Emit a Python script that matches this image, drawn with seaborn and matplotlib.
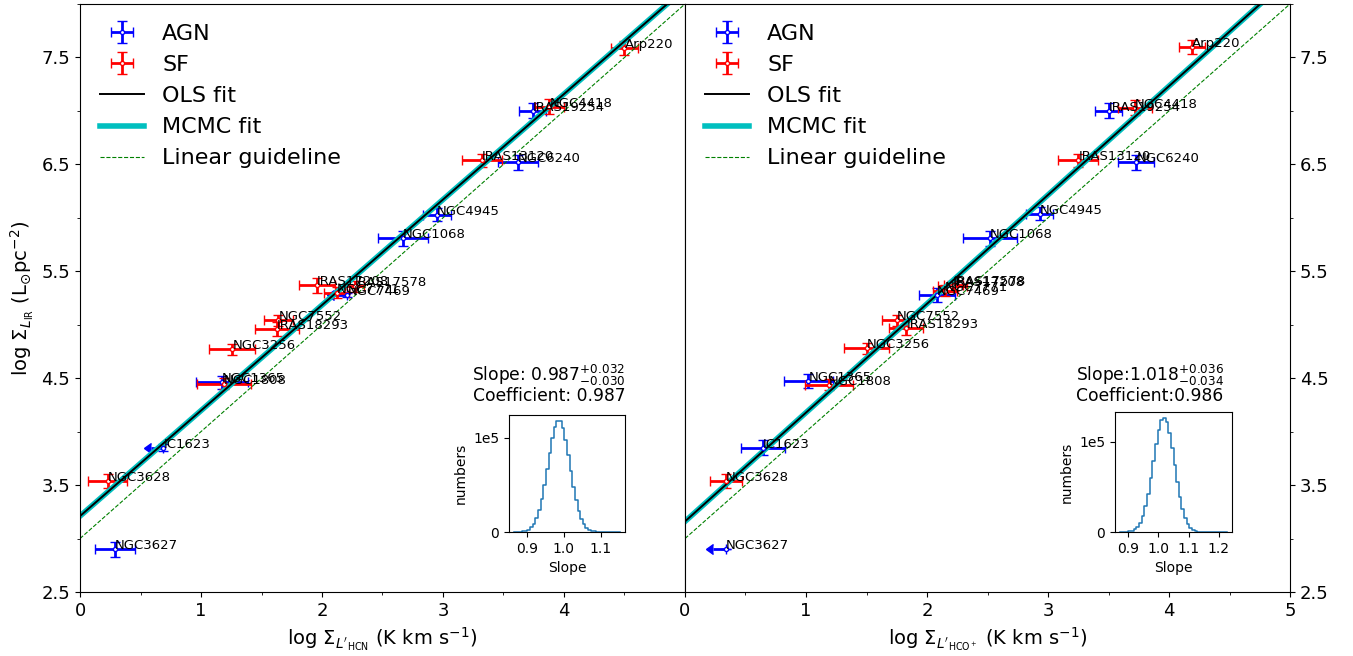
import numpy as np
import matplotlib
matplotlib.use("Agg")
import matplotlib.pyplot as plt
from matplotlib.ticker import MultipleLocator
import pandas as pd
import seaborn as sns

# ---- HCN panel ----
hcn_agn_name = ["NGC3627", "NGC1365", "NGC1068", "NGC4945", "NGC6240", "IRAS19254"]
hcn_agn_x = [0.29, 1.17, 2.67, 2.95, 3.62, 3.74]
hcn_agn_xerr = [0.165, 0.215, 0.21, 0.115, 0.165, 0.11]
hcn_agn_y = [2.90, 4.46, 5.81, 6.03, 6.52, 7.00]
hcn_agn_yerr = [0.07, 0.065, 0.07, 0.06, 0.07, 0.07]

hcn_lim_name = ["IC1623", "NGC7469"]
hcn_lim_x = [0.69, 2.21]
hcn_lim_xerr = [0.10, 0.11]
hcn_lim_y = [3.85, 5.28]
hcn_lim_yerr = [0.03, 0.02]

hcn_sf_name = ["NGC3628", "NGC1808", "NGC3256", "IRAS18293", "NGC7552", "IRAS17208",
               "NGC7771", "IRAS17578", "IRAS13120", "NGC4418", "Arp220"]
hcn_sf_x = [0.23, 1.19, 1.26, 1.63, 1.64, 1.96, 2.12, 2.27, 3.32, 3.88, 4.50]
hcn_sf_xerr = [0.16, 0.225, 0.19, 0.18, 0.12, 0.15, 0.10, 0.08, 0.165, 0.12, 0.11]
hcn_sf_y = [3.54, 4.45, 4.77, 4.96, 5.04, 5.37, 5.30, 5.36, 6.54, 7.04, 7.59]
hcn_sf_yerr = [0.065, 0.05, 0.05, 0.07, 0.055, 0.07, 0.05, 0.05, 0.06, 0.07, 0.065]

# ---- HCO+ panel ----
hco_agn_name = ["IC1623", "NGC1365", "NGC7469", "NGC1068", "NGC4945", "NGC6240", "IRAS19254"]
hco_agn_x = [0.645, 1.02, 2.08, 2.52, 2.93, 3.73, 3.50]
hco_agn_xerr = [0.18, 0.20, 0.15, 0.22, 0.11, 0.15, 0.11]
hco_agn_y = [3.85, 4.47, 5.28, 5.81, 6.04, 6.52, 7.00]
hco_agn_yerr = [0.07, 0.065, 0.065, 0.07, 0.06, 0.07, 0.07]

hco_lim_name = ["NGC3627"]
hco_lim_x = [0.34]
hco_lim_xerr = [0.11]
hco_lim_y = [2.90]
hco_lim_yerr = [0.0]

hco_sf_name = ["NGC3628", "NGC1808", "NGC3256", "IRAS18293", "NGC7552", "IRAS17208",
               "NGC7771", "IRAS17578", "IRAS13120", "NGC4418", "Arp220"]
hco_sf_x = [0.34, 1.19, 1.50, 1.83, 1.75, 2.21, 2.15, 2.22, 3.25, 3.72, 4.19]
hco_sf_xerr = [0.135, 0.20, 0.19, 0.14, 0.12, 0.12, 0.10, 0.08, 0.165, 0.14, 0.105]
hco_sf_y = [3.54, 4.44, 4.78, 4.97, 5.04, 5.36, 5.32, 5.37, 6.54, 7.03, 7.60]
hco_sf_yerr = [0.065, 0.05, 0.05, 0.07, 0.055, 0.05, 0.05, 0.05, 0.06, 0.07, 0.065]

# fits (intercept, slope)
hcn_ols = (3.21, 0.987)
hcn_mcmc = (3.21, 0.987)
hco_ols = (3.16, 1.018)
hco_mcmc = (3.16, 1.018)
guide = (3.0, 1.0)

# MCMC slope histograms (counts per bin)
hcn_hist_range = (0.866, 1.151)
hcn_hist_counts = [44, 112, 268, 605, 1290, 2600, 4920, 8800, 14850, 23600,
                   35450, 50150, 66940, 84250, 100060, 112000, 118350, 117900, 110800, 98150,
                   82030, 64650, 48040, 33680, 22260, 13890, 8170, 4530, 2370, 1170,
                   545, 240, 99, 40, 15, 6, 2, 1, 0, 0]
hco_hist_range = (0.8736, 1.2264)
hco_hist_counts = [43, 113, 282, 658, 1445, 2975, 5750, 10430, 17740, 28340,
                   42480, 59750, 78870, 97730, 113600, 123960, 126940, 121980, 110000, 93090,
                   73950, 55120, 38560, 25310, 15600, 9020, 4890, 2490, 1190, 535,
                   225, 89, 33, 12, 4, 1, 0, 0, 0, 1]

plt.rcParams["font.family"] = ["DejaVu Sans"]
plt.rcParams["mathtext.fontset"] = "dejavusans"

fig = plt.figure(figsize=(13.53, 6.56), dpi=100)
ax1 = fig.add_axes([80 / 1353, 64 / 656, 605 / 1353, 588 / 656])
ax2 = fig.add_axes([685 / 1353, 64 / 656, 605 / 1353, 588 / 656])

eb_kw = dict(fmt="o", ms=3, mfc="white", mew=1, elinewidth=2, capsize=3.5, capthick=2)
legend_labels = ["AGN", "SF", "OLS fit", "MCMC fit", "Linear guideline"]


def draw_panel(ax, agn, lim, sf, ols, mcmc):
    h_agn = ax.errorbar(agn[1], agn[3], xerr=agn[2], yerr=agn[4], color="blue",
                        mec="blue", label="AGN", **eb_kw)
    ax.errorbar(lim[1], lim[3], xerr=lim[2], yerr=lim[4], xuplims=True, color="blue",
                mec="blue", **eb_kw)
    h_sf = ax.errorbar(sf[1], sf[3], xerr=sf[2], yerr=sf[4], color="red", mec="red",
                       label="SF", **eb_kw)
    for grp in (agn, lim, sf):
        for n, x, y in zip(grp[0], grp[1], grp[3]):
            ax.text(x, y, n, fontsize=9.5)
    h_mc = ax.axline((0, mcmc[0]), slope=mcmc[1], color="c", lw=4, label="MCMC fit")
    h_ols = ax.axline((0, ols[0]), slope=ols[1], color="black", lw=1.4, label="OLS fit")
    h_g = ax.axline((0, guide[0]), slope=guide[1], color="green", ls="--", lw=0.8,
                    label="Linear guideline")
    ax.set_xlim(0, 5)
    ax.set_ylim(2.5, 8.0)
    ax.xaxis.set_major_locator(MultipleLocator(1))
    ax.xaxis.set_minor_locator(MultipleLocator(0.5))
    ax.set_yticks([2.5, 3.5, 4.5, 5.5, 6.5, 7.5])
    ax.set_yticks([3, 4, 5, 6, 7, 8], minor=True)
    ax.tick_params(labelsize=13)
    ax.legend(handles=[h_agn, h_sf, h_ols, h_mc, h_g], labels=legend_labels,
              loc="upper left", frameon=False, fontsize=16, borderaxespad=0.5)


draw_panel(ax1,
           (hcn_agn_name, hcn_agn_x, hcn_agn_xerr, hcn_agn_y, hcn_agn_yerr),
           (hcn_lim_name, hcn_lim_x, hcn_lim_xerr, hcn_lim_y, hcn_lim_yerr),
           (hcn_sf_name, hcn_sf_x, hcn_sf_xerr, hcn_sf_y, hcn_sf_yerr),
           hcn_ols, hcn_mcmc)
ax1.set_xticks([0, 1, 2, 3, 4])
ax1.set_xlabel(r"log $\Sigma_{L'_{\rm HCN}}$ (K km s$^{-1}$)", fontsize=14)
ax1.set_ylabel(r"log $\Sigma_{L_{\rm IR}}$ (L$_{\odot}$pc$^{-2}$)", fontsize=14)

draw_panel(ax2,
           (hco_agn_name, hco_agn_x, hco_agn_xerr, hco_agn_y, hco_agn_yerr),
           (hco_lim_name, hco_lim_x, hco_lim_xerr, hco_lim_y, hco_lim_yerr),
           (hco_sf_name, hco_sf_x, hco_sf_xerr, hco_sf_y, hco_sf_yerr),
           hco_ols, hco_mcmc)
ax2.yaxis.tick_right()
ax2.set_xlabel(r"log $\Sigma_{L'_{\rm HCO^+}}$ (K km s$^{-1}$)", fontsize=14)

# slope texts
fig.text(549 / 1353, (656 - 375) / 656, r"Slope: $0.987^{+0.032}_{-0.030}$", ha="center",
         va="center", fontsize=12.3)
fig.text(549 / 1353, (656 - 396) / 656, "Coefficient: 0.987", ha="center", va="center",
         fontsize=12.3)
fig.text(1150 / 1353, (656 - 375) / 656, r"Slope:$1.018^{+0.036}_{-0.034}$", ha="center",
         va="center", fontsize=12.3)
fig.text(1150 / 1353, (656 - 396) / 656, "Coefficient:0.986", ha="center", va="center",
         fontsize=12.3)

# insets
ins1 = fig.add_axes([509 / 1353, 124 / 656, 116 / 1353, 117 / 656])
ins2 = fig.add_axes([1115 / 1353, 124 / 656, 117 / 1353, 120 / 656])
for ins, rng, counts, xt in ((ins1, hcn_hist_range, hcn_hist_counts, [0.9, 1.0, 1.1]),
                             (ins2, hco_hist_range, hco_hist_counts, [0.9, 1.0, 1.1, 1.2])):
    width = (rng[1] - rng[0]) / len(counts)
    hist_df = pd.DataFrame({"slope": rng[0] + width * (np.arange(len(counts)) + 0.5),
                            "count": counts})
    sns.histplot(data=hist_df, x="slope", weights="count", bins=len(counts),
                 binrange=rng, element="step", fill=False, color="C0", lw=1.1, ax=ins)
    ins.set_xticks(xt)
    ins.set_yticks([0, 1e5])
    ins.set_yticklabels(["0", "1e5"])
    ins.tick_params(labelsize=10)
    ins.set_xlabel("Slope", fontsize=10)
    ins.set_ylabel("numbers", fontsize=10)

fig.savefig("out.png", dpi=100)
